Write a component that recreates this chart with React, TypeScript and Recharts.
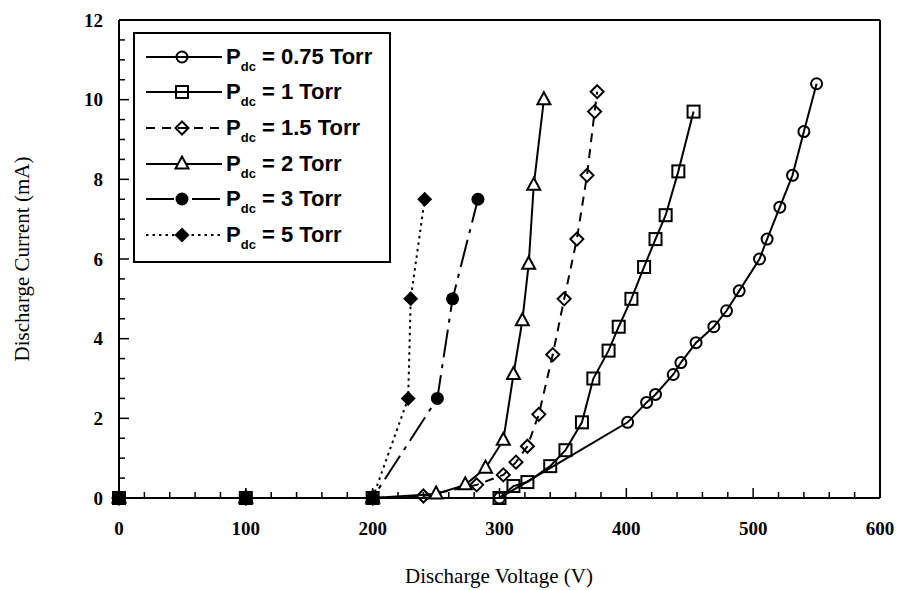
import React from "react";
import { LineChart, Line, XAxis, YAxis, ReferenceLine } from "recharts";

// Discharge voltage (V) and current (mA)
const v075 = [0, 100, 200, 300, 401, 416, 423, 437, 443, 455, 469, 479, 489, 505, 511, 521, 531, 540, 550];
const i075 = [0, 0, 0, 0, 1.9, 2.4, 2.6, 3.1, 3.4, 3.9, 4.3, 4.7, 5.2, 6.0, 6.5, 7.3, 8.1, 9.2, 10.4];

const v1 = [0, 100, 200, 300, 311, 322, 340, 352, 365, 374, 386, 394, 404, 414, 423, 431, 441, 453];
const i1 = [0, 0, 0, 0, 0.3, 0.4, 0.8, 1.2, 1.9, 3.0, 3.7, 4.3, 5.0, 5.8, 6.5, 7.1, 8.2, 9.7];

const v15 = [0, 100, 200, 240, 282, 303, 313, 322, 331, 342, 351, 361, 369, 375, 377];
const i15 = [0, 0, 0, 0.05, 0.33, 0.58, 0.9, 1.3, 2.1, 3.6, 5.0, 6.5, 8.1, 9.7, 10.2];

const v2 = [0, 100, 200, 250, 273, 289, 303, 311, 318, 323, 327, 335];
const i2 = [0, 0, 0, 0.1, 0.33, 0.75, 1.45, 3.1, 4.45, 5.87, 7.85, 10.0];

const v3 = [0, 100, 200, 251, 263, 283];
const i3 = [0, 0, 0, 2.5, 5.0, 7.5];

const v5 = [0, 100, 200, 228, 230, 241];
const i5 = [0, 0, 0, 2.5, 5.0, 7.5];

const pressures = ["0.75", "1", "1.5", "2", "3", "5"];

const xTicks = [0, 20, 40, 60, 80, 100, 120, 140, 160, 180, 200, 220, 240, 260, 280, 300, 320, 340, 360, 380, 400, 420, 440, 460, 480, 500, 520, 540, 560, 580, 600];
const yTicks = [0, 0.5, 1, 1.5, 2, 2.5, 3, 3.5, 4, 4.5, 5, 5.5, 6, 6.5, 7, 7.5, 8, 8.5, 9, 9.5, 10, 10.5, 11, 11.5, 12];

const zip = (v: number[], c: number[]) => v.map((x, k) => ({ v: x, i: c[k] }));

const INK = "#000";
const serif = "'Liberation Serif', 'DejaVu Serif', serif";
const sans = "'Liberation Sans', Arial, sans-serif";

// markers
const OpenCircle = ({ cx, cy }: any) => <circle cx={cx} cy={cy} r={5.5} fill="none" stroke={INK} strokeWidth={2} />;
const OpenSquare = ({ cx, cy }: any) => <rect x={cx - 6} y={cy - 6} width={12} height={12} fill="none" stroke={INK} strokeWidth={2} />;
const OpenDiamond = ({ cx, cy }: any) => (
  <polygon points={`${cx},${cy - 6.5} ${cx + 6.5},${cy} ${cx},${cy + 6.5} ${cx - 6.5},${cy}`} fill="none" stroke={INK} strokeWidth={2} />
);
const OpenTriangle = ({ cx, cy }: any) => (
  <polygon points={`${cx},${cy - 7.5} ${cx + 6.5},${cy + 4.5} ${cx - 6.5},${cy + 4.5}`} fill="#fff" stroke={INK} strokeWidth={2} />
);
const FilledCircle = ({ cx, cy }: any) => <circle cx={cx} cy={cy} r={6.5} fill={INK} />;
const FilledDiamond = ({ cx, cy }: any) => (
  <polygon points={`${cx},${cy - 7.5} ${cx + 7.5},${cy} ${cx},${cy + 7.5} ${cx - 7.5},${cy}`} fill={INK} />
);

const series = [
  { name: pressures[0], data: zip(v075, i075), dash: undefined, Mark: OpenCircle },
  { name: pressures[1], data: zip(v1, i1), dash: undefined, Mark: OpenSquare },
  { name: pressures[2], data: zip(v15, i15), dash: "9 7", Mark: OpenDiamond },
  { name: pressures[3], data: zip(v2, i2), dash: undefined, Mark: OpenTriangle },
  { name: pressures[4], data: zip(v3, i3), dash: "28 7 4 7", Mark: FilledCircle },
  { name: pressures[5], data: zip(v5, i5), dash: "2.5 4", Mark: FilledDiamond },
];

const tickText = { fontFamily: serif, fontSize: 19, fontWeight: 700, fill: INK };
const titleText = { fontFamily: serif, fontSize: 21, fill: INK };

const LeftTick = ({ x, y, payload }: any) => {
  const major = payload.value % 2 === 0;
  return (
    <g>
      <line x1={x} y1={y} x2={x + (major ? 10 : 6)} y2={y} stroke={INK} strokeWidth={1.5} />
      {major && (
        <text x={x - 16} y={y} textAnchor="end" dominantBaseline="central" {...tickText}>
          {payload.value}
        </text>
      )}
    </g>
  );
};

const RightTick = ({ x, y, payload }: any) => {
  const major = payload.value % 2 === 0;
  return <line x1={x} y1={y} x2={x - (major ? 10 : 6)} y2={y} stroke={INK} strokeWidth={1.5} />;
};

const BottomTick = ({ x, y, payload }: any) => {
  const major = payload.value % 100 === 0;
  return (
    <g>
      <line x1={x} y1={y} x2={x} y2={y - (major ? 10 : 6)} stroke={INK} strokeWidth={1.5} />
      {major && (
        <text x={x} y={y + 30} textAnchor="middle" dominantBaseline="central" {...tickText}>
          {payload.value}
        </text>
      )}
    </g>
  );
};

const LegendSample = ({ dash, Mark }: any) => (
  <svg width={76} height={20} style={{ display: "block" }}>
    <line x1={0} y1={10} x2={76} y2={10} stroke={INK} strokeWidth={2} strokeDasharray={dash} />
    <Mark cx={36} cy={10} />
  </svg>
);

const LegendBox = () => (
  <div
    style={{
      position: "absolute",
      left: 125,
      top: 24,
      width: 258,
      height: 231,
      boxSizing: "border-box",
      border: "2.5px solid #000",
      background: "#fff",
      paddingTop: 5,
      paddingLeft: 11,
    }}
  >
    {series.map((s) => (
      <div key={s.name} style={{ display: "flex", alignItems: "center", height: 35.6 }}>
        <LegendSample dash={s.dash} Mark={s.Mark} />
        <span style={{ marginLeft: 4, fontFamily: sans, fontSize: 22, fontWeight: 700, whiteSpace: "nowrap" }}>
          P<span style={{ fontSize: 13, position: "relative", top: 7 }}>dc</span> = {s.name} Torr
        </span>
      </div>
    ))}
  </div>
);

export default function App() {
  return (
    <div style={{ position: "relative", width: 886, height: 582, background: "#fff" }}>
      <LineChart width={886} height={582} margin={{ top: 12, right: 12, bottom: 0, left: 0 }}>
        <XAxis
          dataKey="v"
          type="number"
          domain={[0, 600]}
          ticks={xTicks}
          interval={0}
          tickSize={0}
          tickMargin={0}
          tickLine={false}
          tick={<BottomTick />}
          height={92}
          axisLine={{ stroke: INK, strokeWidth: 2 }}
          label={{
            content: () => (
              <text x={491} y={575} textAnchor="middle" {...titleText}>
                Discharge Voltage (V)
              </text>
            ),
          }}
        />
        <YAxis
          type="number"
          domain={[0, 12]}
          ticks={yTicks}
          interval={0}
          width={111}
          tickSize={0}
          tickMargin={0}
          tickLine={false}
          tick={<LeftTick />}
          axisLine={{ stroke: INK, strokeWidth: 2 }}
          label={{
            content: () => (
              <text
                x={14}
                y={251}
                textAnchor="middle"
                dominantBaseline="central"
                transform="rotate(-90 14 251)"
                {...titleText}
              >
                Discharge Current (mA)
              </text>
            ),
          }}
        />
        <YAxis
          yAxisId="r"
          orientation="right"
          type="number"
          domain={[0, 12]}
          ticks={yTicks}
          interval={0}
          width={2}
          tickSize={0}
          tickMargin={0}
          tickLine={false}
          tick={<RightTick />}
          axisLine={{ stroke: INK, strokeWidth: 2 }}
        />
        <ReferenceLine y={12} stroke={INK} strokeWidth={2} />
        {series.map((s) => (
          <Line
            key={s.name}
            data={s.data}
            dataKey="i"
            type="linear"
            stroke={INK}
            strokeWidth={2}
            strokeDasharray={s.dash}
            dot={<s.Mark />}
            activeDot={false}
            isAnimationActive={false}
          />
        ))}
      </LineChart>
      <LegendBox />
    </div>
  );
}
